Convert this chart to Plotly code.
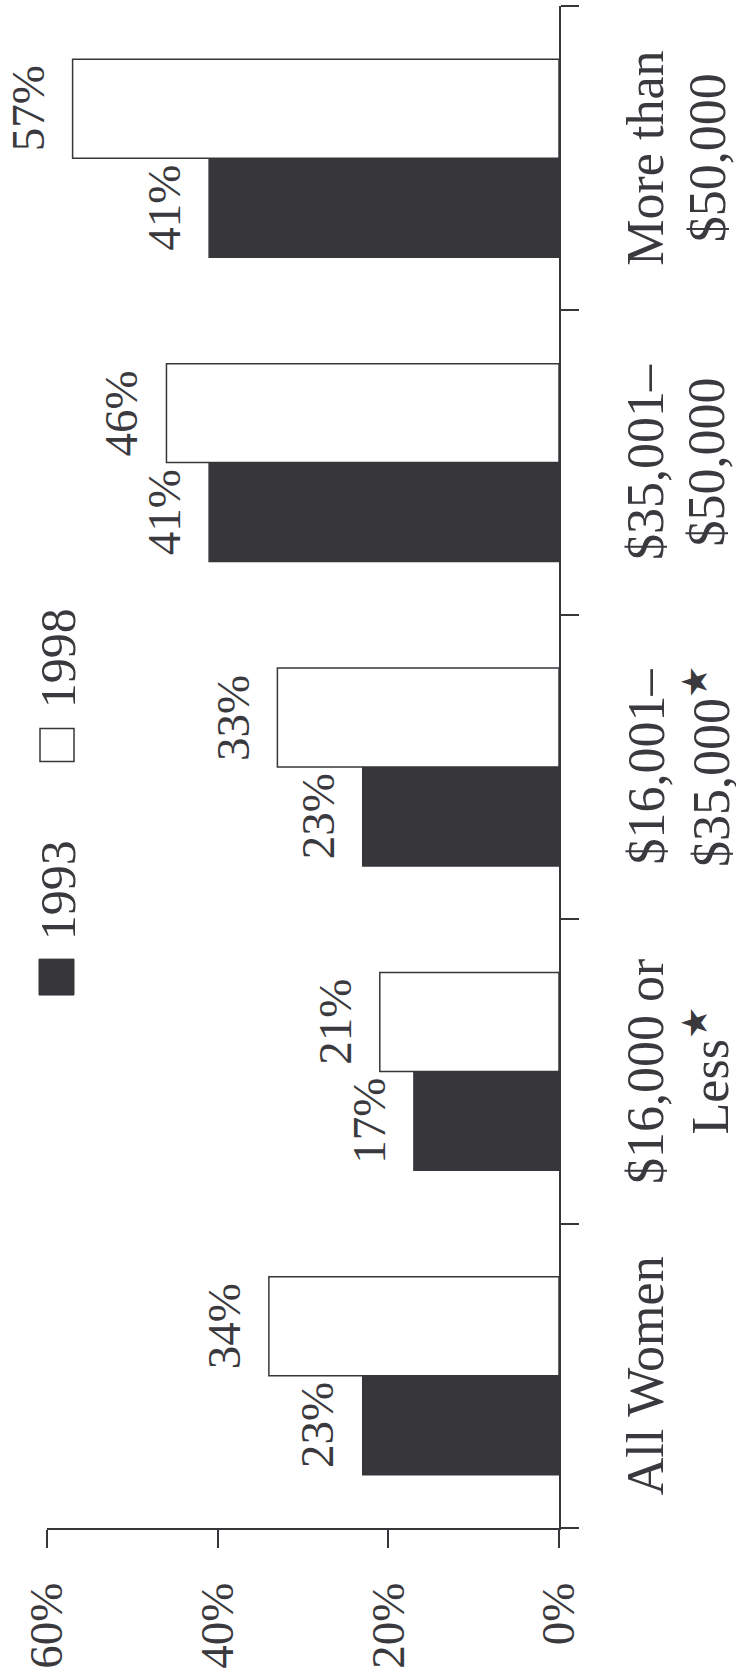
import plotly.graph_objects as go

# ---- data ----
categories = ["All Women", "$16,000 or Less*", "$16,001–$35,000*", "$35,001–$50,000", "More than $50,000"]
label_line1 = ["All Women", "$16,000 or", "$16,001–", "$35,001–", "More than"]
label_line2 = ["", "Less<sup>★</sup>", "$35,000<sup>★</sup>", "$50,000", "$50,000"]
values_1993 = [23, 17, 23, 41, 41]
values_1998 = [34, 21, 33, 46, 57]
series_names = ["1993", "1998"]
value_ticks = [0, 20, 40, 60]
value_tick_text = ["0%", "20%", "40%", "60%"]

# ---- style ----
DARK = "#37363b"
TEXT = "#3a393e"
FONT = "Liberation Serif"
FS = 50
FS_CAT = 52
FS_VAL = 47
W, H = 736, 1675
L, R, T, B = 47, 559, 6, 1531  # plot area in pixels


def px_x(p):
    return (p - L) / (R - L)


def px_y(p):
    return (B - p) / (B - T)


fig = go.Figure()
fig.add_trace(go.Bar(orientation="h", y=categories, x=values_1993, name=series_names[0],
                     marker=dict(color=DARK, line=dict(color=DARK, width=1.5))))
fig.add_trace(go.Bar(orientation="h", y=categories, x=values_1998, name=series_names[1],
                     marker=dict(color="white", line=dict(color=DARK, width=1.5))))

annotations = []
# value labels
for cat, v in zip(categories, values_1993):
    annotations.append(dict(x=v, y=cat, xref="x", yref="y", text=f"{v}%", showarrow=False,
                            textangle=-90, xanchor="center", yanchor="middle",
                            xshift=-45, yshift=-49.5,
                            font=dict(family=FONT, size=FS_VAL, color=TEXT)))
for cat, v in zip(categories, values_1998):
    annotations.append(dict(x=v, y=cat, xref="x", yref="y", text=f"{v}%", showarrow=False,
                            textangle=-90, xanchor="center", yanchor="middle",
                            xshift=-45, yshift=49.5,
                            font=dict(family=FONT, size=FS_VAL, color=TEXT)))
# category labels (two lines each)
for cat, l1, l2 in zip(categories, label_line1, label_line2):
    annotations.append(dict(x=0, y=cat, xref="x", yref="y", text=l1, showarrow=False,
                            textangle=-90, xanchor="center", yanchor="middle",
                            xshift=86.5, font=dict(family=FONT, size=FS_CAT, color=TEXT)))
    if l2:
        annotations.append(dict(x=0, y=cat, xref="x", yref="y", text=l2, showarrow=False,
                                textangle=-90, xanchor="center", yanchor="middle",
                                xshift=148, font=dict(family=FONT, size=FS_CAT, color=TEXT)))

# legend (rotated, drawn manually)
shapes = [
    dict(type="rect", xref="paper", yref="paper", x0=px_x(39), x1=px_x(74), y0=px_y(997), y1=px_y(961),
         fillcolor=DARK, line=dict(color=DARK, width=1)),
    dict(type="rect", xref="paper", yref="paper", x0=px_x(40), x1=px_x(74), y0=px_y(763), y1=px_y(730),
         fillcolor="white", line=dict(color=DARK, width=1.5)),
]
annotations.append(dict(x=px_x(57.5), y=px_y(892.5), xref="paper", yref="paper", text=series_names[0],
                        showarrow=False, textangle=-90, xanchor="center", yanchor="middle",
                        font=dict(family=FONT, size=FS, color=TEXT)))
annotations.append(dict(x=px_x(57.5), y=px_y(660), xref="paper", yref="paper", text=series_names[1],
                        showarrow=False, textangle=-90, xanchor="center", yanchor="middle",
                        font=dict(family=FONT, size=FS, color=TEXT)))

fig.update_layout(
    width=W, height=H,
    margin=dict(l=L, r=W - R, t=T, b=H - B, pad=0),
    paper_bgcolor="white", plot_bgcolor="white",
    barmode="group", bargap=0.35, bargroupgap=0,
    showlegend=False,
    annotations=annotations, shapes=shapes,
    xaxis=dict(range=[60, 0], tickvals=value_ticks, ticktext=value_tick_text,
               ticks="outside", ticklen=18, tickwidth=1.5, tickcolor=DARK,
               showline=True, linecolor=DARK, linewidth=1.5,
               showgrid=False, zeroline=False, tickangle=-90, ticklabelstandoff=16,
               tickfont=dict(family=FONT, size=FS_VAL, color=TEXT)),
    yaxis=dict(type="category", categoryorder="array", categoryarray=categories,
               range=[-0.5, 4.5], side="right", showline=True, linecolor=DARK, linewidth=1.5,
               ticks="outside", tickson="boundaries", ticklen=18, tickwidth=1.5, tickcolor=DARK,
               showticklabels=False, showgrid=False, zeroline=False),
)

fig.write_html("out.html", config={"displayModeBar": False},
               post_script="document.body.style.margin='0';document.body.style.overflow='hidden';")
